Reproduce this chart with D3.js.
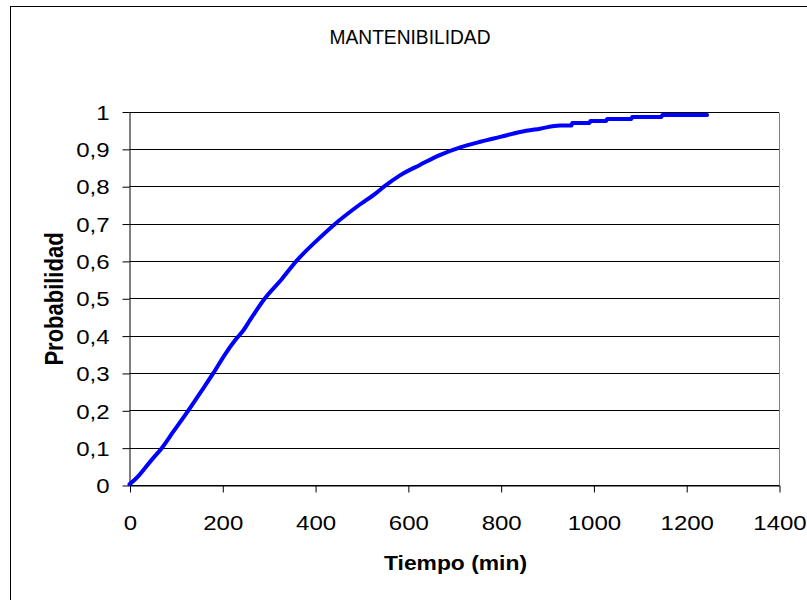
<!DOCTYPE html>
<html>
<head>
<meta charset="utf-8">
<script src="https://cdn.jsdelivr.net/npm/d3@7"></script>
<style>
    body { margin: 0; background: #fff; }
    svg { display: block; font-family: Arial, 'Liberation Sans', sans-serif; }
</style>
</head>
<body>
<script>
// tiempo (min) vs probabilidad acumulada
const tiempo = [0, 3, 20, 33, 51, 69, 94, 127, 152, 181, 206, 228, 246, 260, 292, 328, 360,
    411, 443, 490, 533, 550, 583, 626, 670, 713, 756, 799, 842, 885, 928, 953, 954, 992, 993,
    1028, 1029, 1082, 1083, 1147, 1148, 1245];
const probabilidad = [0.002, 0.005, 0.025, 0.045, 0.072, 0.098, 0.142, 0.2, 0.246, 0.3, 0.35,
    0.388, 0.415, 0.442, 0.5, 0.551, 0.6, 0.663, 0.699, 0.745, 0.783, 0.8, 0.829, 0.857, 0.884,
    0.904, 0.919, 0.932, 0.945, 0.954, 0.9625, 0.9625, 0.969, 0.969, 0.9745, 0.9745, 0.98, 0.98,
    0.985, 0.985, 0.9905, 0.9905];

const xTicks = [0, 200, 400, 600, 800, 1000, 1200, 1400];
const yTicks = [0, 0.1, 0.2, 0.3, 0.4, 0.5, 0.6, 0.7, 0.8, 0.9, 1];
const yTickLabels = ['0', '0,1', '0,2', '0,3', '0,4', '0,5', '0,6', '0,7', '0,8', '0,9', '1'];

const titulo = 'MANTENIBILIDAD';
const tituloX = 'Tiempo (min)';
const tituloY = 'Probabilidad';

drawChart();

function drawChart()
{
    const svgWidth = 807;
    const svgHeight = 600;

    const svg = d3.select('body')
        .append('svg')
        .attr('width', svgWidth)
        .attr('height', svgHeight);

    // chart area border (right / bottom edges fall outside the picture)
    svg.append('rect')
        .attr('x', 10.5)
        .attr('y', 6.5)
        .attr('width', 810)
        .attr('height', 610)
        .attr('fill', 'none')
        .attr('stroke', '#000');

    const x = d3.scaleLinear([0, 1400], [129.5, 779]);
    const y = d3.scaleLinear([0, 1], [485, 111.5]);
    const snap = v => Math.round(v) + 0.5;

    // horizontal gridlines
    svg.append('g')
        .selectAll('line')
        .data(yTicks)
        .join('line')
        .attr('x1', x(0))
        .attr('x2', x(1400))
        .attr('y1', d => snap(y(d)))
        .attr('y2', d => snap(y(d)))
        .attr('stroke', '#000');

    // plot area right border
    svg.append('line')
        .attr('x1', snap(x(1400) - 0.5))
        .attr('x2', snap(x(1400) - 0.5))
        .attr('y1', snap(y(1)))
        .attr('y2', snap(y(0)))
        .attr('stroke', '#808080');

    // y axis
    const yAxis = svg.append('g')
        .attr('transform', `translate(${x(0)},0.5)`)
        .call(d3.axisLeft(y)
            .tickValues(yTicks)
            .tickSize(7)
            .tickSizeOuter(0)
            .tickFormat((d, i) => yTickLabels[i]));
    yAxis.select('.domain').attr('stroke', '#000');
    yAxis.selectAll('.tick text')
        .attr('x', -20)
        .attr('dy', '0.36em')
        .attr('font-size', 20)
        .attr('font-family', null)
        .attr('fill', '#000');

    // x axis
    const xAxis = svg.append('g')
        .attr('transform', `translate(0.5,${snap(y(0))})`)
        .call(d3.axisBottom(x)
            .tickValues(xTicks)
            .tickSize(7)
            .tickSizeOuter(0)
            .tickFormat(d => String(d)));
    xAxis.select('.domain').attr('stroke', '#000');
    xAxis.selectAll('.tick text')
        .attr('y', 44.5)
        .attr('dy', 0)
        .attr('font-size', 20)
        .attr('font-family', null)
        .attr('fill', '#000');

    // labels in the picture are a bit wider than the font
    svg.selectAll('.tick text').each(function()
    {
        const w = this.getComputedTextLength();
        d3.select(this)
            .attr('textLength', w * 1.2)
            .attr('lengthAdjust', 'spacingAndGlyphs');
    });

    // curve
    const points = tiempo.map((t, i) => [t, probabilidad[i]]);
    const line = d3.line()
        .x(d => x(d[0]))
        .y(d => y(d[1]))
        .curve(d3.curveMonotoneX);

    svg.append('path')
        .datum(points)
        .attr('d', line)
        .attr('fill', 'none')
        .attr('stroke', '#0000ff')
        .attr('stroke-width', 4)
        .attr('stroke-linejoin', 'round')
        .attr('stroke-linecap', 'round');

    // titles
    svg.append('text')
        .attr('x', 329.5)
        .attr('y', 44)
        .attr('font-size', 20)
        .attr('textLength', 161)
        .attr('lengthAdjust', 'spacingAndGlyphs')
        .text(titulo);

    svg.append('text')
        .attr('x', 384)
        .attr('y', 570)
        .attr('font-size', 20)
        .attr('font-weight', 'bold')
        .attr('textLength', 143)
        .attr('lengthAdjust', 'spacingAndGlyphs')
        .text(tituloX);

    svg.append('text')
        .attr('transform', 'translate(63,299) scale(1.15,1) rotate(-90)')
        .attr('text-anchor', 'middle')
        .attr('font-size', 22)
        .attr('font-weight', 'bold')
        .text(tituloY);
}
</script>
</body>
</html>
